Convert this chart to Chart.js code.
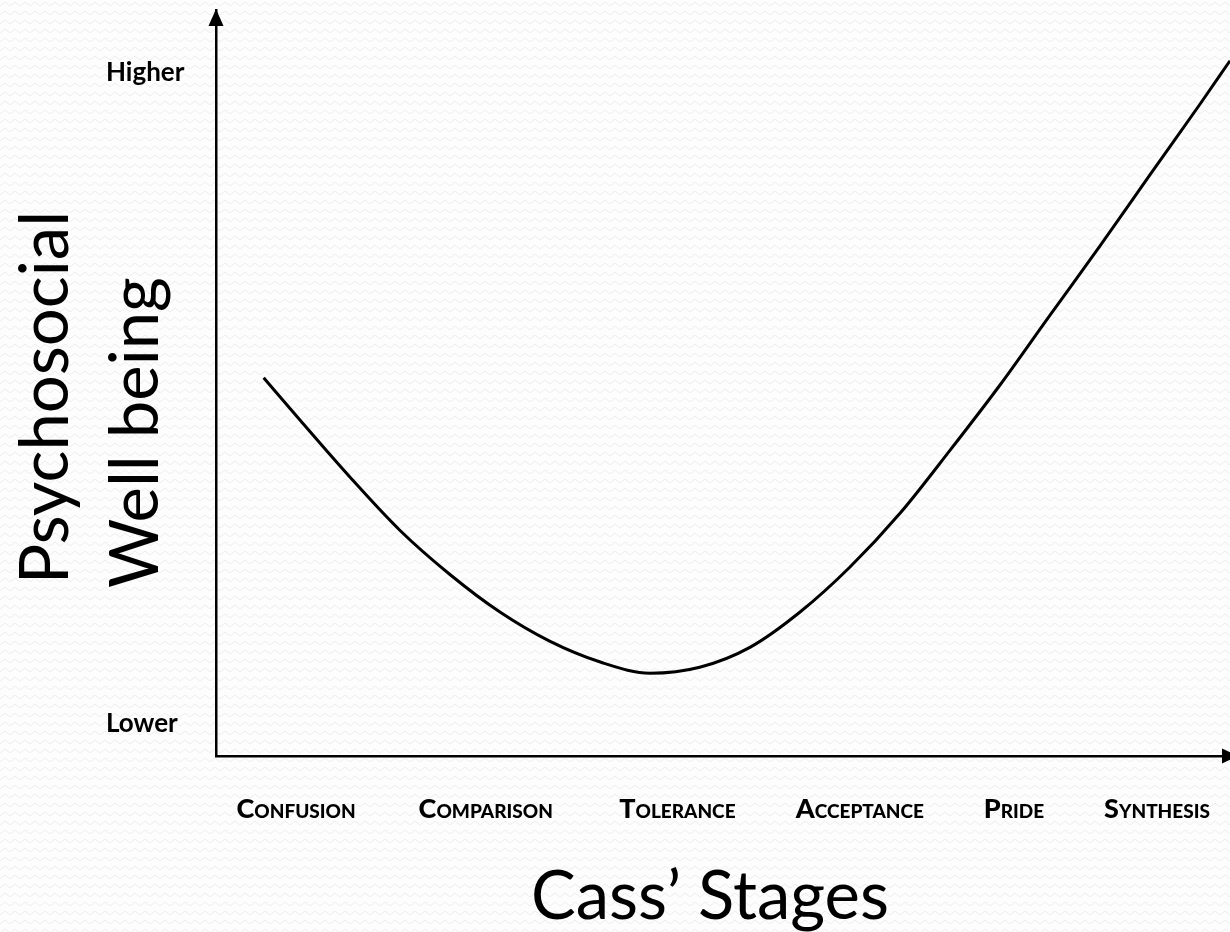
<!DOCTYPE html>
<html>
<head>
<meta charset="utf-8">
<script src="https://cdn.jsdelivr.net/npm/chart.js@4.4.1/dist/chart.umd.min.js"></script>
<style>
  html, body { margin: 0; padding: 0; }
  body {
    width: 1230px; height: 932px; overflow: hidden;
    background-color: #fdfdfd;
    background-image: url("data:image/svg+xml;utf8,<svg xmlns='http://www.w3.org/2000/svg' width='10' height='9'><polyline points='0,6 5,2 10,6' fill='none' stroke='%23ececec' stroke-width='1'/></svg>");
  }
  #wrap { position: relative; width: 1230px; height: 932px; }
</style>
</head>
<body>
<div id="wrap"><canvas id="c"></canvas></div>
<script>
// ── Data ─────────────────────────────────────────────────────────────────────

// stages along the x axis (0–100 scale)
const STAGES      = ['Confusion', 'Comparison', 'Tolerance', 'Acceptance', 'Pride', 'Synthesis'];
const STAGE_POS   = [7.9, 26.6, 45.5, 63.5, 78.7, 92.8];

// y axis end labels (0–100 scale)
const LEVELS      = ['Lower', 'Higher'];
const LEVEL_POS   = [4.4, 91.6];

// the well-being curve
const CURVE_X = [4.7, 8.3, 13.2, 18.1, 23.1, 28.0, 32.9, 37.9, 42.8, 47.7, 52.7,
                 57.6, 62.5, 67.5, 72.4, 77.3, 82.2, 87.2, 92.1, 97.0, 100];
const CURVE_Y = [50.7, 45.0, 37.4, 30.3, 24.3, 19.3, 15.4, 12.6, 11.1, 11.9, 14.6,
                 19.3, 25.3, 32.6, 41.0, 49.7, 59.0, 68.4, 77.9, 87.3, 93.2];

const Y_TITLE = ['Psychosocial', 'Well being'];
const X_TITLE = 'Cass’ Stages';

const FONT = 'Lato, "Open Sans", sans-serif';

// ── Plugins ──────────────────────────────────────────────────────────────────

// arrow heads on the axis ends + the big axis titles
const decorations = {
  id: 'decorations',
  afterDraw(chart) {
    const { ctx, chartArea: a } = chart;
    ctx.save();
    ctx.fillStyle = '#000';

    // up arrow
    ctx.beginPath();
    ctx.moveTo(a.left, a.top - 1);
    ctx.lineTo(a.left - 7.5, a.top + 16);
    ctx.lineTo(a.left + 7.5, a.top + 16);
    ctx.closePath();
    ctx.fill();

    // right arrow (tip runs past the page edge)
    ctx.beginPath();
    ctx.moveTo(a.right + 8, a.bottom);
    ctx.lineTo(a.right - 8, a.bottom - 7.5);
    ctx.lineTo(a.right - 8, a.bottom + 7.5);
    ctx.closePath();
    ctx.fill();

    ctx.font = '67px ' + FONT;
    ctx.textBaseline = 'alphabetic';

    // y title, two rotated lines, left aligned at the bottom
    const yLines = [[68, 584], [158, 588]];
    Y_TITLE.forEach((t, i) => {
      ctx.save();
      ctx.translate(yLines[i][0], yLines[i][1]);
      ctx.rotate(-Math.PI / 2);
      ctx.textAlign = 'left';
      ctx.fillText(t, 0, 0);
      ctx.restore();
    });

    // x title
    ctx.textAlign = 'center';
    ctx.fillText(X_TITLE, 710, 919);
    ctx.restore();
  },
};

// no extra room for edge labels: the plot runs to the page edge
function noEdgePadding(s) {
  s.paddingLeft = 0; s.paddingRight = 0;
  s.paddingTop = 0;  s.paddingBottom = 0;
}

// ── Chart ────────────────────────────────────────────────────────────────────

new Chart(document.getElementById('c'), {
  type: 'line',
  data: {
    datasets: [{
      data: CURVE_X.map((x, i) => ({ x, y: CURVE_Y[i] })),
      borderColor: '#000',
      borderWidth: 3,
      pointRadius: 0,
      cubicInterpolationMode: 'monotone',
      fill: false,
    }],
  },
  options: {
    responsive: true,
    maintainAspectRatio: false,
    animation: false,
    layout: { padding: { left: 106, top: 10, right: 0, bottom: 0 } },
    plugins: { legend: { display: false }, tooltip: { enabled: false } },
    scales: {
      x: {
        type: 'linear',
        min: 0, max: 100,
        grid: { display: false },
        border: { display: true, color: '#000', width: 2.5 },
        afterBuildTicks: s => { s.ticks = STAGE_POS.map(v => ({ value: v })); },
        afterFit: s => { s.height = 176; noEdgePadding(s); },
        ticks: {
          autoSkip: false,
          maxRotation: 0,
          padding: 29,
          color: '#000',
          font: { family: FONT, size: 27, weight: 'small-caps 900' },
          callback: v => STAGES[STAGE_POS.indexOf(v)] ?? '',
        },
      },
      y: {
        type: 'linear',
        min: 0, max: 100,
        grid: { display: false },
        border: { display: true, color: '#000', width: 2.5 },
        afterBuildTicks: s => { s.ticks = LEVEL_POS.map(v => ({ value: v })); },
        afterFit: s => { s.width = 110; noEdgePadding(s); },
        ticks: {
          autoSkip: false,
          crossAlign: 'far',
          color: '#000',
          font: { family: FONT, size: 26, weight: 'bold' },
          callback: v => LEVELS[LEVEL_POS.indexOf(v)] ?? '',
        },
      },
    },
  },
  plugins: [decorations],
});
</script>
</body>
</html>
